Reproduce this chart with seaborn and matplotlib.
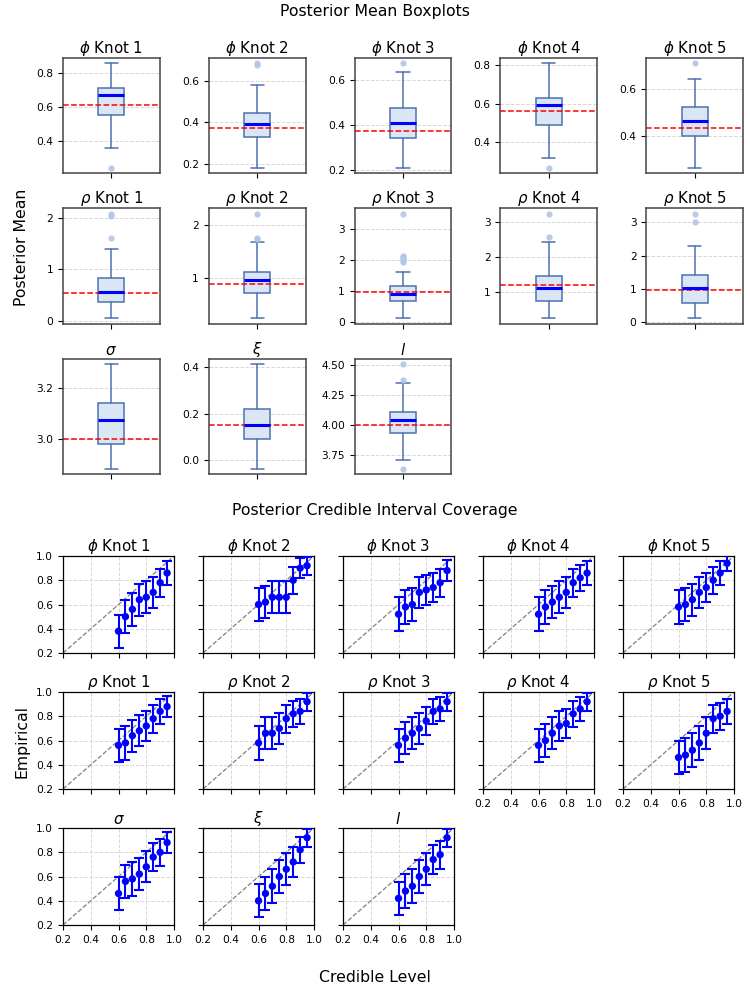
import numpy as np
import pandas as pd
import matplotlib
matplotlib.use("Agg")
import matplotlib.pyplot as plt
import seaborn as sns

# parameter names (titles)
param_titles = [r'$\phi$ Knot 1', r'$\phi$ Knot 2', r'$\phi$ Knot 3', r'$\phi$ Knot 4', r'$\phi$ Knot 5',
                r'$\rho$ Knot 1', r'$\rho$ Knot 2', r'$\rho$ Knot 3', r'$\rho$ Knot 4', r'$\rho$ Knot 5',
                r'$\sigma$', r'$\xi$', r'$l$']

# box summary of the posterior means
box_whislo = [0.357, 0.181, 0.209, 0.318, 0.264, 0.045, 0.24, 0.13, 0.24, 0.11, 2.881, -0.036, 3.71]
box_q1 = [0.553, 0.328, 0.344, 0.491, 0.400, 0.36, 0.71, 0.68, 0.74, 0.58, 2.980, 0.093, 3.936]
box_med = [0.669, 0.392, 0.409, 0.594, 0.464, 0.55, 0.96, 0.90, 1.10, 1.01, 3.072, 0.153, 4.039]
box_q3 = [0.710, 0.446, 0.473, 0.629, 0.522, 0.83, 1.11, 1.17, 1.44, 1.40, 3.139, 0.222, 4.105]
box_whishi = [0.855, 0.578, 0.634, 0.810, 0.643, 1.385, 1.67, 1.62, 2.42, 2.29, 3.295, 0.413, 4.345]
box_fliers = [[0.241], [0.675, 0.683], [0.673], [0.266], [0.708],
              [1.61, 2.03, 2.08], [1.73, 1.75, 2.21], [1.95, 2.0, 2.05, 2.1, 2.15, 3.5],
              [2.57, 3.24], [3.02, 3.26], [], [], [3.637, 4.37, 4.505]]
true_values = [0.61, 0.371, 0.373, 0.563, 0.434, 0.545, 0.89, 0.98, 1.2, 0.95, 3.0, 0.15, 4.0]
box_yticks = [[0.4, 0.6, 0.8], [0.2, 0.4, 0.6], [0.2, 0.4, 0.6], [0.4, 0.6, 0.8], [0.4, 0.6],
              [0, 1, 2], [1, 2], [0, 1, 2, 3], [1, 2, 3], [0, 1, 2, 3],
              [3.0, 3.2], [0.0, 0.2, 0.4], [3.75, 4.00, 4.25, 4.50]]

# coverage of credible intervals
credible_levels = [0.60, 0.65, 0.70, 0.75, 0.80, 0.85, 0.90, 0.95]
n_reps = 50
coverage = [
    [0.38, 0.50, 0.56, 0.64, 0.66, 0.70, 0.78, 0.86],
    [0.60, 0.62, 0.66, 0.66, 0.66, 0.80, 0.90, 0.92],
    [0.52, 0.58, 0.60, 0.70, 0.72, 0.74, 0.78, 0.88],
    [0.52, 0.58, 0.62, 0.66, 0.70, 0.78, 0.82, 0.86],
    [0.58, 0.60, 0.64, 0.70, 0.74, 0.80, 0.86, 0.94],
    [0.56, 0.58, 0.64, 0.68, 0.72, 0.78, 0.84, 0.88],
    [0.58, 0.66, 0.66, 0.70, 0.78, 0.82, 0.84, 0.92],
    [0.56, 0.62, 0.66, 0.70, 0.76, 0.84, 0.86, 0.92],
    [0.56, 0.60, 0.66, 0.72, 0.74, 0.82, 0.86, 0.92],
    [0.46, 0.48, 0.52, 0.58, 0.66, 0.78, 0.80, 0.84],
    [0.46, 0.56, 0.58, 0.62, 0.68, 0.76, 0.80, 0.88],
    [0.40, 0.46, 0.52, 0.60, 0.66, 0.72, 0.82, 0.92],
    [0.42, 0.48, 0.52, 0.60, 0.66, 0.74, 0.78, 0.92],
]
cov_ticks = [0.2, 0.4, 0.6, 0.8, 1.0]

sns.set_theme(style="ticks", context="paper")
plt.rcParams['font.family'] = ['DejaVu Sans']
plt.rcParams.update({
    'xtick.labelsize': 7.7, 'ytick.labelsize': 7.7,
    'axes.titlesize': 10.8, 'axes.titlepad': 3,
    'text.color': 'black', 'axes.labelcolor': 'black',
    'xtick.color': 'black', 'ytick.color': 'black',
    'xtick.major.size': 3.5, 'ytick.major.size': 3.5,
    'xtick.major.width': 0.8, 'ytick.major.width': 0.8,
})

fig = plt.figure(figsize=(7.5, 9.89), dpi=100)
subfig_top, subfig_bot = fig.subfigures(2, 1)

box_edge = '#4c72b0'
box_face = '#dae6f4'

# ---- Posterior mean boxplots
gs_top = subfig_top.add_gridspec(3, 5, left=0.084, right=0.9907, top=0.8827, bottom=0.0415,
                                 wspace=0.507, hspace=0.305)
for i, title in enumerate(param_titles):
    ax = subfig_top.add_subplot(gs_top[i // 5, i % 5])
    stats = [dict(med=box_med[i], q1=box_q1[i], q3=box_q3[i], whislo=box_whislo[i],
                  whishi=box_whishi[i], fliers=box_fliers[i], label='')]
    ax.bxp(stats, positions=[0], widths=0.27, patch_artist=True,
           boxprops=dict(facecolor=box_face, edgecolor=box_edge, linewidth=1.1),
           whiskerprops=dict(color=box_edge, linewidth=1.1),
           capprops=dict(color=box_edge, linewidth=1.1),
           medianprops=dict(color='blue', linewidth=2.2),
           flierprops=dict(marker='o', markerfacecolor='#b3c6e6', markeredgecolor='none',
                           markersize=4.5, alpha=0.9))
    ax.axhline(true_values[i], color='red', linestyle='--', linewidth=1.1)
    ax.set_xlim(-0.5, 0.5)
    ax.set_xticks([0])
    ax.set_xticklabels([''])
    ax.set_yticks(box_yticks[i])
    ax.grid(axis='y', linestyle='--', color='#d8d8d8', linewidth=0.7)
    ax.set_axisbelow(True)
    for sp in ax.spines.values():
        sp.set_visible(True)
        sp.set_color('#444444')
        sp.set_linewidth(1.1)
    ax.set_title(title)

subfig_top.suptitle('Posterior Mean Boxplots', fontsize=11.3, y=0.976, va='center')
subfig_top.supylabel('Posterior Mean', fontsize=11.3, x=0.019)

# ---- Credible interval coverage
gs_bot = subfig_bot.add_gridspec(3, 5, left=0.084, right=0.9787, top=0.8756, bottom=0.1294,
                                 wspace=0.261, hspace=0.402)
for i, title in enumerate(param_titles):
    row, col = i // 5, i % 5
    ax = subfig_bot.add_subplot(gs_bot[row, col])
    cov = np.array(coverage[i])
    err = 1.96 * np.sqrt(cov * (1 - cov) / n_reps)
    ax.axline((0, 0), slope=1, color='gray', linestyle='--', linewidth=0.9)
    ax.errorbar(credible_levels, cov, yerr=err, fmt='none', ecolor='blue',
                elinewidth=1.5, capsize=3.5, capthick=1.5, zorder=3)
    sns.scatterplot(x=credible_levels, y=cov, ax=ax, color='blue', s=28,
                    edgecolor='none', zorder=4)
    ax.set_xlim(0.2, 1.0)
    ax.set_ylim(0.2, 1.0)
    ax.set_xticks(cov_ticks)
    ax.set_yticks(cov_ticks)
    ax.grid(True, linestyle='--', color='#d8d8d8', linewidth=0.7)
    ax.set_axisbelow(True)
    for sp in ax.spines.values():
        sp.set_visible(True)
        sp.set_color('black')
        sp.set_linewidth(0.9)
    show_x = row == 2 or (row == 1 and col >= 3)
    ax.tick_params(labelbottom=show_x, labelleft=(col == 0))
    ax.set_title(title)

subfig_bot.suptitle('Posterior Credible Interval Coverage', fontsize=11.3, y=0.967, va='center')
subfig_bot.supylabel('Empirical', fontsize=11.3, x=0.019)
subfig_bot.supxlabel('Credible Level', fontsize=11.3, y=0.024, va='center')

fig.savefig('out.png', dpi=100)
